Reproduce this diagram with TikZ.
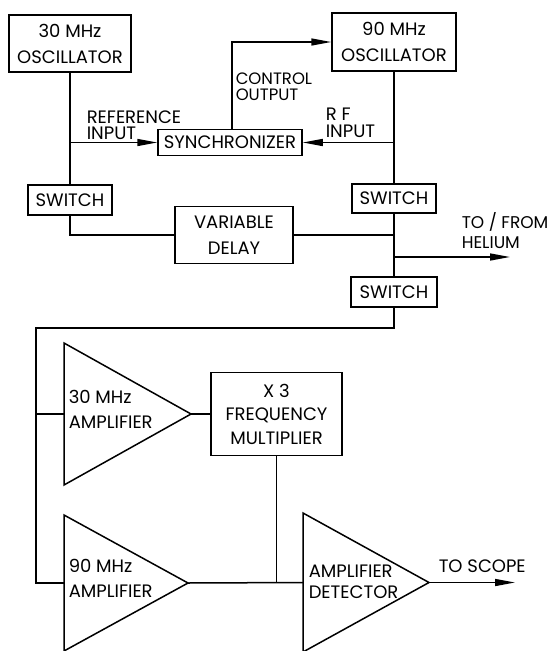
\documentclass[tikz,border=0pt]{standalone}
\usepackage{fontspec}
\setmainfont{Poppins}
\usetikzlibrary{arrows.meta}
\newcommand\lblfont{\fontsize{18}{26}\selectfont}
\newcommand\xfont{\fontsize{18}{23.5}\selectfont}
\newcommand\reffont{\fontsize{18}{16.5}\selectfont}
\newcommand\cofont{\fontsize{16.5}{15.5}\selectfont}
\newcommand\rffont{\fontsize{18}{17}\selectfont}
\newcommand\hefont{\fontsize{17}{20}\selectfont}
\begin{document}
\begin{tikzpicture}[x=1pt,y=-1pt,line width=1.5pt,line join=miter,
  box/.style={draw,inner sep=0pt,align=center,font=\lblfont},
  lbl/.style={inner sep=0pt,font=\lblfont,text depth=0pt,anchor=west},
  mlbl/.style={inner sep=0pt,align=left,anchor=base west},
  arr/.style={-{Triangle[length=20pt,width=7pt]}},
  amp/.style={line join=miter}]
\useasboundingbox (0,0) rectangle (551,651);
% boxes
\node[box,minimum width=122pt,minimum height=57pt] (osc30) at (70,43.5) {30 MHz\\OSCILLATOR};
\node[box,minimum width=124pt,minimum height=58pt] (osc90) at (394,42) {90 MHz\\OSCILLATOR};
\node[box,minimum width=144pt,minimum height=26pt] (sync) at (230,142.5) {SYNCHRONIZER};
\node[box,minimum width=84pt,minimum height=30pt] (sw1) at (70,200) {SWITCH};
\node[box,minimum width=118pt,minimum height=57pt] (delay) at (234,235) {VARIABLE\\DELAY};
\node[box,minimum width=84pt,minimum height=29pt] (sw2) at (394,198.5) {SWITCH};
\node[box,minimum width=86pt,minimum height=30pt] (sw3) at (394,292) {SWITCH};
\node[box,font=\xfont,minimum width=131pt,minimum height=83pt] (x3) at (276.5,414) {X 3\\FREQUENCY\\MULTIPLIER};
% amplifier triangles
\coordinate (a30in) at (64,414);
\coordinate (a30out) at (191,414);
\coordinate (a90in) at (64,583);
\coordinate (a90out) at (188,583);
\coordinate (detin) at (303,582.5);
\coordinate (detout) at (429,582.5);
\draw[amp] (64,343) -- (64,485) -- (a30out) -- cycle;
\draw[amp] (64,515) -- (64,651) -- (a90out) -- cycle;
\draw[amp] (303,513) -- (303,652) -- (detout) -- cycle;
\node[lbl] (t30) at (68,397) {30 MHz};
\node[lbl] (t30b) at (68,422.5) {AMPLIFIER};
\node[lbl] (t90) at (68,566) {90 MHz};
\node[lbl] (t90b) at (68,591) {AMPLIFIER};
\node[lbl] (td1) at (308,571) {AMPLIFIER};
\node[lbl] (td2) at (308,592.5) {DETECTOR};
% labels (base anchor = baseline of last line)
\node[mlbl,font=\reffont] (ref) at (86,139.5) {REFERENCE\\INPUT};
\node[mlbl,font=\cofont] (co) at (235,100) {CONTROL\\OUTPUT};
\node[mlbl,font=\rffont] (rf) at (325,137) {R F\\INPUT};
\node[mlbl,font=\hefont] (he) at (461,248) {TO / FROM\\HELIUM};
\node[lbl] (sc) at (438,566.5) {TO SCOPE};
% connectors
\coordinate (jref) at (osc30.south |- sync.west);
\coordinate (jrf) at (osc90.south |- sync.east);
\coordinate (jdel) at (osc90.south |- delay.east);
\coordinate (jhe) at (394,257);
\coordinate (heend) at (510,257);
\coordinate (scope) at (515,582.5);
\coordinate (corner) at (36,328);
\coordinate (jx3) at (x3.south |- detin);
\draw (osc30.south) -- (sw1.north);
\draw[arr] (jref) -- (sync.west);
\draw[arr] ([xshift=2pt]sync.north) |- (osc90.west);
\draw (osc90.south) -- (sw2.north);
\draw[arr] (jrf) -- (sync.east);
\draw (sw1.south) |- (delay.west);
\draw (delay.east) -- (jdel);
\draw (sw2.south) -- (sw3.north);
\draw[arr] (jhe) -- (heend);
\draw (sw3.south) |- (corner) |- (a90in);
\draw (corner |- a30in) -- (a30in);
\draw (a30out) -- (x3.west |- a30out);
\draw (a90out) -- (detin);
\draw (x3.south) -- (jx3);
\draw[arr] (detout) -- (scope);
\end{tikzpicture}
\end{document}
